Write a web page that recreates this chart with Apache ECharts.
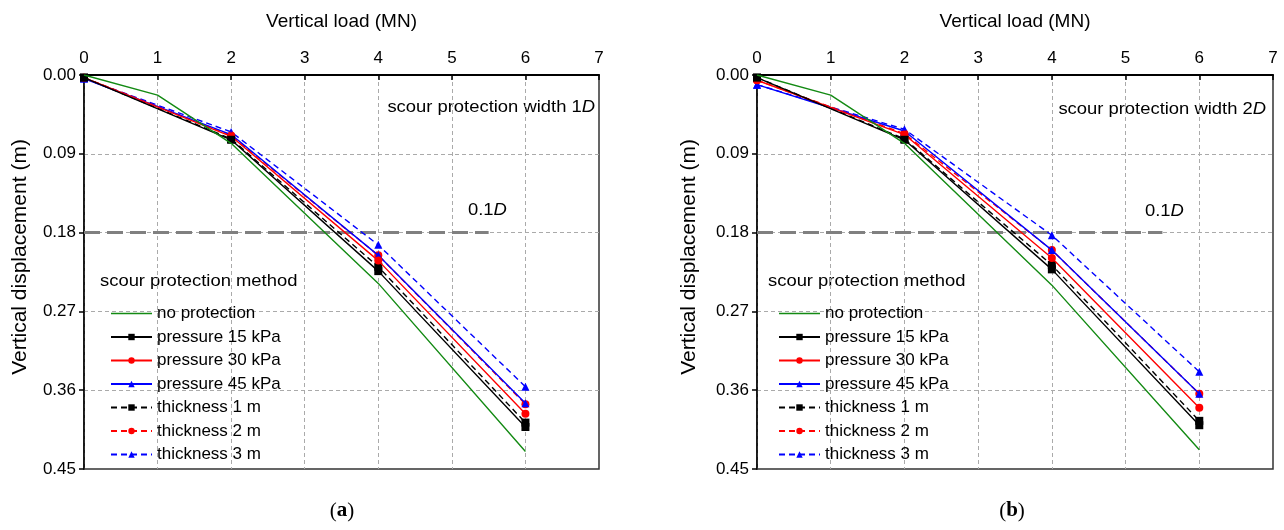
<!DOCTYPE html>
<html><head><meta charset="utf-8">
<script src="https://cdn.jsdelivr.net/npm/echarts@6/dist/echarts.min.js"></script>
<style>html,body{margin:0;padding:0;background:#fff}#c{width:1284px;height:530px}</style>
</head><body><div id="c"></div>
<script>
// ---- data ----
const xTicks = [0,1,2,3,4,5,6,7];
const yTicks = [0.00,0.09,0.18,0.27,0.36,0.45];
const loadGreen = [0,1,2,4,6];
const loadPts = [0,2,4,6];
const names = ['no protection','pressure 15 kPa','pressure 30 kPa','pressure 45 kPa','thickness 1 m','thickness 2 m','thickness 3 m'];
// chart (a): scour protection width 1D
const a_noProt = [0,0.023,0.078,0.238,0.430];
const a_p15 = [0.003,0.074,0.224,0.402];
const a_p30 = [0.003,0.070,0.212,0.387];
const a_p45 = [0.004,0.068,0.206,0.375];
const a_t1  = [0.003,0.073,0.219,0.397];
const a_t2  = [0.003,0.069,0.206,0.376];
const a_t3  = [0.004,0.065,0.194,0.356];
// chart (b): scour protection width 2D
const b_noProt = [0,0.023,0.078,0.240,0.428];
const b_p15 = [0.003,0.074,0.222,0.400];
const b_p30 = [0.006,0.068,0.209,0.380];
const b_p45 = [0.011,0.064,0.200,0.364];
const b_t1  = [0.003,0.073,0.217,0.395];
const b_t2  = [0.006,0.067,0.200,0.364];
const b_t3  = [0.011,0.062,0.183,0.339];
// 0.1D reference line
const refLineX = [0,5.5];
const refLineY = 0.18;

const FONT = 'Arial, "Liberation Sans", sans-serif';
const GREEN = '#138a13';
const zip = (xs, ys) => xs.map((x,i)=>[x, ys[i]]);

const styles = [
  {color:GREEN, type:'solid', symbol:'none'},
  {color:'#000000', type:'solid', symbol:'rect'},
  {color:'#ff0000', type:'solid', symbol:'circle'},
  {color:'#0000ff', type:'solid', symbol:'triangle'},
  {color:'#000000', type:[6,4], symbol:'rect'},
  {color:'#ff0000', type:[6,4], symbol:'circle'},
  {color:'#0000ff', type:[6,4], symbol:'triangle'}
];

function seriesFor(idx, sets){
  const out = [];
  sets.forEach((ys, k) => {
    const st = styles[k];
    out.push({
      name: names[k], type:'line', xAxisIndex: idx, yAxisIndex: idx,
      data: zip(k===0 ? loadGreen : loadPts, ys),
      symbol: st.symbol, symbolSize: 8, showSymbol: st.symbol!=='none',
      lineStyle: {color: st.color, width: 1.4, type: st.type},
      itemStyle: {color: st.color},
      z: 10 - k, animation: false
    });
  });
  out.push({
    type:'line', xAxisIndex: idx, yAxisIndex: idx,
    data: refLineX.map(x=>[x, refLineY]), symbol:'none',
    lineStyle:{color:'#808080', width:3, type:[16,7]}, z: 2, silent:true, animation:false
  });
  return out;
}

const grids = [{left:84, top:75, width:515, height:394}, {left:757, top:75, width:516, height:394}];

function xAxis(i){
  return {
    gridIndex:i, type:'value', position:'top', min:0, max:7, interval:1,
    name:'Vertical load (MN)', nameLocation:'middle', nameGap:44,
    nameTextStyle:{fontFamily:FONT, fontSize:19, color:'#000'},
    axisLine:{show:true, lineStyle:{color:'#000', width:2}},
    axisTick:{show:true, inside:true, length:5, lineStyle:{color:'#000', width:1.5}},
    axisLabel:{fontFamily:FONT, fontSize:17, color:'#000', margin:8},
    splitLine:{show:true, showMaxLine:false, lineStyle:{color:'#aaa', type:[4,3], width:1}}
  };
}
function yAxis(i){
  return {
    gridIndex:i, type:'value', inverse:true, min:0, max:0.45, interval:0.09,
    axisLine:{show:true, lineStyle:{color:'#000', width:1.5}},
    axisTick:{show:true, inside:false, length:5, lineStyle:{color:'#000', width:1.5}},
    axisLabel:{fontFamily:FONT, fontSize:17, color:'#000', margin:8, formatter:v=>v.toFixed(2)},
    splitLine:{show:true, showMaxLine:false, lineStyle:{color:'#aaa', type:[4,3], width:1}}
  };
}
// thin line-only legend icon (tiny specks extend the bounding box to full height)
const lineOnlyIcon = 'path://M0,0L0.01,0L0.01,0.01ZM0,3.2H41V4.8H0ZM0,8L0.01,8L0.01,7.99Z';
function legend(left){
  const data = names.map((n,k)=> k===0 ? {name:n, icon:lineOnlyIcon, itemStyle:{color:GREEN, borderColor:GREEN, borderWidth:0, opacity:1}} : n);
  return {
    orient:'vertical', left:left, top:300, itemWidth:41, itemHeight:8, itemGap:6.5,
    data:data, selectedMode:false,
    textStyle:{fontFamily:FONT, fontSize:17, color:'#000', lineHeight:16}
  };
}
const rich = {i:{font:'italic 16px '+FONT, fill:'#000'}};

const option = {
  backgroundColor:'#fff',
  grid: grids.map(g => Object.assign({show:true, borderColor:'#333', borderWidth:1.5}, g)),
  xAxis:[xAxis(0), xAxis(1)],
  yAxis:[yAxis(0), yAxis(1)],
  legend:[legend(105), legend(773)],
  series: seriesFor(0, [a_noProt,a_p15,a_p30,a_p45,a_t1,a_t2,a_t3])
          .concat(seriesFor(1, [b_noProt,b_p15,b_p30,b_p45,b_t1,b_t2,b_t3])),
  graphic:[
    {type:'text', x:20, y:257, rotation:Math.PI/2, style:{text:'Vertical displacement (m)', font:'21px '+FONT, fill:'#000', align:'center', verticalAlign:'middle'}},
    {type:'text', x:689, y:257, rotation:Math.PI/2, style:{text:'Vertical displacement (m)', font:'21px '+FONT, fill:'#000', align:'center', verticalAlign:'middle'}},
    {type:'text', x:100, y:282, scaleX:1.15, style:{text:'scour protection method', font:'16px '+FONT, fill:'#000', verticalAlign:'middle'}},
    {type:'text', x:768, y:282, scaleX:1.15, style:{text:'scour protection method', font:'16px '+FONT, fill:'#000', verticalAlign:'middle'}},
    {type:'text', x:595, y:108, scaleX:1.15, style:{text:'scour protection width 1{i|D}', rich:rich, font:'16px '+FONT, fill:'#000', align:'right', verticalAlign:'middle'}},
    {type:'text', x:1266, y:110, scaleX:1.15, style:{text:'scour protection width 2{i|D}', rich:rich, font:'16px '+FONT, fill:'#000', align:'right', verticalAlign:'middle'}},
    {type:'text', x:468, y:211, scaleX:1.15, style:{text:'0.1{i|D}', rich:rich, font:'16px '+FONT, fill:'#000', verticalAlign:'middle'}},
    {type:'text', x:1145, y:212, scaleX:1.15, style:{text:'0.1{i|D}', rich:rich, font:'16px '+FONT, fill:'#000', verticalAlign:'middle'}},
    {type:'text', x:342, y:511, style:{text:'({b|a})', rich:{b:{font:'bold 21px "Liberation Serif", "DejaVu Serif", serif', fill:'#000'}}, font:'21px "Liberation Serif", serif', fill:'#000', align:'center', verticalAlign:'middle'}},
    {type:'text', x:1012, y:511, style:{text:'({b|b})', rich:{b:{font:'bold 21px "Liberation Serif", "DejaVu Serif", serif', fill:'#000'}}, font:'21px "Liberation Serif", serif', fill:'#000', align:'center', verticalAlign:'middle'}}
  ]
};
const chart = echarts.init(document.getElementById('c'), null, {renderer:'canvas'});
chart.setOption(option);
</script></body></html>
